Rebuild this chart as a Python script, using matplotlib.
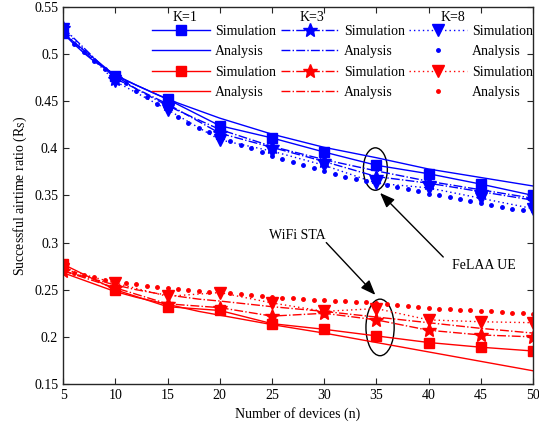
import numpy as np
import matplotlib
matplotlib.use("Agg")
import matplotlib.pyplot as plt
from matplotlib.patches import Ellipse
from matplotlib.ticker import FuncFormatter

plt.rcParams['font.family'] = ['Liberation Serif', 'DejaVu Serif']
plt.rcParams['mathtext.fontset'] = 'stix'

# simulation points
n_sim = [5, 10, 15, 20, 25, 30, 35, 40, 45, 50]
ue_sim_k1 = [0.522, 0.477, 0.452, 0.424, 0.411, 0.396, 0.382, 0.373, 0.362, 0.350]
ue_sim_k3 = [0.528, 0.474, 0.447, 0.416, 0.401, 0.386, 0.370, 0.363, 0.354, 0.345]
ue_sim_k8 = [0.527, 0.471, 0.441, 0.409, 0.397, 0.382, 0.363, 0.358, 0.347, 0.336]
sta_sim_k1 = [0.277, 0.250, 0.232, 0.228, 0.214, 0.208, 0.201, 0.194, 0.189, 0.185]
sta_sim_k3 = [0.270, 0.252, 0.235, 0.231, 0.222, 0.225, 0.218, 0.207, 0.202, 0.200]
sta_sim_k8 = [0.272, 0.257, 0.243, 0.247, 0.236, 0.227, 0.230, 0.218, 0.216, 0.215]

# analysis curves (lines)
n_ana = [5, 6, 7, 8, 9, 10, 12, 14, 16, 18, 20, 25, 30, 35, 40, 45, 50]
ue_ana_k1 = [0.522, 0.511, 0.501, 0.492, 0.485, 0.478, 0.467, 0.457, 0.448, 0.440, 0.432,
             0.415, 0.401, 0.390, 0.378, 0.369, 0.360]
ue_ana_k3 = [0.524, 0.513, 0.502, 0.493, 0.485, 0.477, 0.463, 0.451, 0.440, 0.430, 0.420,
             0.402, 0.388, 0.376, 0.365, 0.356, 0.347]
sta_ana_k1 = [0.268, 0.264, 0.260, 0.256, 0.252, 0.248, 0.242, 0.237, 0.232, 0.227, 0.223,
              0.213, 0.204, 0.194, 0.184, 0.174, 0.164]
sta_ana_k3 = [0.270, 0.267, 0.264, 0.261, 0.258, 0.255, 0.250, 0.246, 0.243, 0.240, 0.238,
              0.232, 0.227, 0.221, 0.215, 0.209, 0.204]

# analysis K=8 (dots at every n)
n_dots = list(range(5, 51))
ue_ana_k8 = [0.521, 0.511, 0.502, 0.493, 0.484, 0.476, 0.469, 0.461, 0.454, 0.447,
             0.440, 0.433, 0.427, 0.422, 0.417, 0.412, 0.408, 0.404, 0.400, 0.396,
             0.392, 0.389, 0.385, 0.382, 0.379, 0.376, 0.373, 0.370, 0.367, 0.365,
             0.363, 0.361, 0.359, 0.357, 0.355, 0.352, 0.350, 0.348, 0.346, 0.344,
             0.342, 0.340, 0.338, 0.336, 0.335, 0.333]
sta_ana_k8 = [0.270, 0.268, 0.266, 0.263, 0.260, 0.258, 0.257, 0.256, 0.254, 0.253,
              0.252, 0.251, 0.250, 0.249, 0.248, 0.247, 0.246, 0.245, 0.244, 0.243,
              0.242, 0.241, 0.241, 0.240, 0.239, 0.239, 0.238, 0.238, 0.237, 0.237,
              0.236, 0.235, 0.234, 0.233, 0.232, 0.231, 0.230, 0.230, 0.229, 0.228,
              0.227, 0.227, 0.226, 0.225, 0.225, 0.224]

BLUE = (0, 0, 1)
RED = (1, 0, 0)
DOT = (0, (1, 2.2))
FS = 10

fig = plt.figure(figsize=(5.39, 4.30), dpi=100)
ax = fig.add_axes([0.117, 0.107, 0.872, 0.877])

handles = []
for c, s1, a1, s3, a3, s8, a8 in [
        (BLUE, ue_sim_k1, ue_ana_k1, ue_sim_k3, ue_ana_k3, ue_sim_k8, ue_ana_k8),
        (RED, sta_sim_k1, sta_ana_k1, sta_sim_k3, sta_ana_k3, sta_sim_k8, sta_ana_k8)]:
    h1, = ax.plot(n_sim, s1, '-', color=c, lw=1, marker='s', ms=7.5)
    h2, = ax.plot(n_ana, a1, '-', color=c, lw=1)
    h3, = ax.plot(n_sim, s3, '-.', color=c, lw=1, marker='*', ms=10)
    h4, = ax.plot(n_ana, a3, '-.', color=c, lw=1)
    h5, = ax.plot(n_sim, s8, linestyle=DOT, color=c, lw=1, marker='v', ms=9)
    h6, = ax.plot(n_dots, a8, linestyle='none', color=c, marker='.', ms=5)
    handles.append((h1, h2, h3, h4, h5, h6))

ub, rb = handles
leg_handles = [ub[0], ub[1], rb[0], rb[1],
               ub[2], ub[3], rb[2], rb[3],
               ub[4], ub[5], rb[4], rb[5]]
leg_labels = ['Simulation', 'Analysis'] * 6
ax.legend(leg_handles, leg_labels, ncol=3, frameon=False, loc='upper right',
          bbox_to_anchor=(1.0, 0.953), fontsize=FS, handlelength=4.2,
          handletextpad=0.35, columnspacing=0.3, labelspacing=0.54,
          borderaxespad=0, borderpad=0)
for xt, lab in [(0.26, 'K=1'), (0.53, 'K=3'), (0.83, 'K=8')]:
    ax.text(xt, 0.99, lab, transform=ax.transAxes, fontsize=FS,
            ha='center', va='top')

# annotations
ax.add_patch(Ellipse((34.9, 0.378), 2.3, 0.045, fill=False, ec='k', lw=1))
ax.add_patch(Ellipse((35.35, 0.210), 2.7, 0.060, fill=False, ec='k', lw=1))
arrow = dict(arrowstyle='-|>,head_length=0.9,head_width=0.35', color='k', lw=1,
             shrinkA=0, shrinkB=0)
ax.annotate('', xy=(35.35, 0.3527), xytext=(41.4, 0.2847), arrowprops=arrow)
ax.text(42.2, 0.276, 'FeLAA UE', fontsize=FS, ha='left', va='center')
ax.annotate('', xy=(34.9, 0.2445), xytext=(30.2, 0.300), arrowprops=arrow)
ax.text(27.4, 0.308, 'WiFi STA', fontsize=FS, ha='center', va='center')

ax.set_xlim(5, 50)
ax.set_ylim(0.15, 0.55)
ax.set_xticks(np.arange(5, 51, 5))
ax.set_yticks(np.arange(0.15, 0.551, 0.05))
ax.yaxis.set_major_formatter(FuncFormatter(lambda v, p: '%g' % round(v, 2)))
ax.tick_params(direction='in', top=True, right=True, labelsize=FS,
               color='#262626', length=4)
for sp in ax.spines.values():
    sp.set_color('#262626')
    sp.set_linewidth(1)
ax.set_xlabel('Number of devices (n)', fontsize=FS)
ax.set_ylabel(r'Successful airtime ratio (R$_{\mathrm{S}}$)', fontsize=FS)

fig.savefig('out.png', dpi=100)
